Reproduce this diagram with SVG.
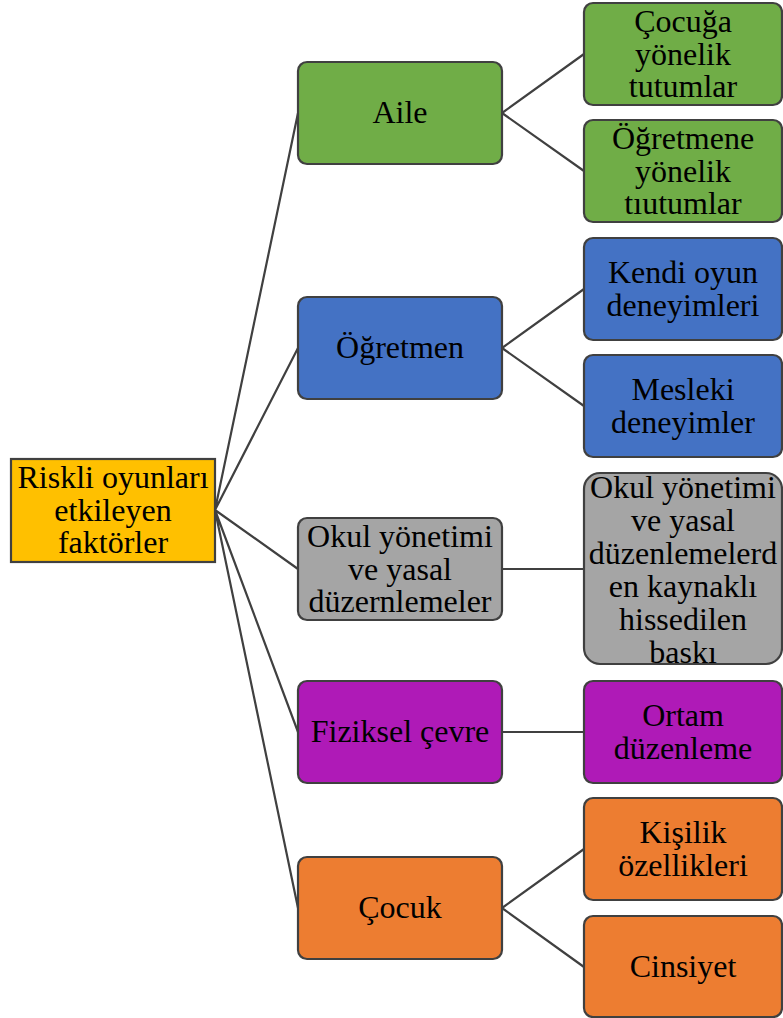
<svg xmlns="http://www.w3.org/2000/svg" width="783" height="1018" viewBox="0 0 783 1018">
<style>
.b{stroke:#404040;stroke-width:2.2}
.t{font-size:32px;fill:#000;text-anchor:middle}
.e{stroke:#404040;stroke-width:2.2;fill:none}
.g{fill:#70AD47}.bl{fill:#4472C4}.gr{fill:#A5A5A5}.p{fill:#AF1AB7}.o{fill:#ED7D31}.y{fill:#FFC000}
</style>
<g id="connectors">
<path class="e" d="M215 510L298 113M215 510L298 348M215 510L298 569M215 510L298 732M215 510L298 908"/>
<path class="e" d="M502 113L584 54M502 113L584 171M502 348L584 289M502 348L584 406M502 569L584 569M502 732L584 732M502 908L584 849M502 908L584 967"/>
</g>
<g font-family="Liberation Serif, Times New Roman, DejaVu Serif, serif">
<g id="root"><rect class="b y" x="11" y="459" width="204" height="103"/>
<text class="t"><tspan x="113" y="488">Riskli oyunları</tspan><tspan x="113" y="520.5">etkileyen</tspan><tspan x="113" y="553">faktörler</tspan></text></g>
<g id="aile"><rect class="b g" x="298" y="62" width="204" height="102" rx="9"/><text class="t" x="400" y="123">Aile</text></g>
<g id="ogretmen"><rect class="b bl" x="298" y="297" width="204" height="102" rx="9"/><text class="t" x="400" y="358">Öğretmen</text></g>
<g id="okul"><rect class="b gr" x="298" y="518" width="204" height="102" rx="9"/>
<text class="t"><tspan x="400" y="547">Okul yönetimi</tspan><tspan x="400" y="579.5">ve yasal</tspan><tspan x="400" y="612">düzernlemeler</tspan></text></g>
<g id="fiziksel"><rect class="b p" x="298" y="681" width="204" height="102" rx="9"/><text class="t" x="400" y="742">Fiziksel çevre</text></g>
<g id="cocuk"><rect class="b o" x="298" y="857" width="204" height="102" rx="9"/><text class="t" x="400" y="918">Çocuk</text></g>
<g id="cocuga"><rect class="b g" x="584" y="3" width="198" height="102" rx="9"/>
<text class="t"><tspan x="683" y="32">Çocuğa</tspan><tspan x="683" y="64.5">yönelik</tspan><tspan x="683" y="97">tutumlar</tspan></text></g>
<g id="ogretmene"><rect class="b g" x="584" y="120" width="198" height="102" rx="9"/>
<text class="t"><tspan x="683" y="149">Öğretmene</tspan><tspan x="683" y="181.5">yönelik</tspan><tspan x="683" y="214">tıutumlar</tspan></text></g>
<g id="kendi"><rect class="b bl" x="584" y="238" width="198" height="102" rx="9"/>
<text class="t"><tspan x="683" y="283">Kendi oyun</tspan><tspan x="683" y="315.5">deneyimleri</tspan></text></g>
<g id="mesleki"><rect class="b bl" x="584" y="355" width="198" height="102" rx="9"/>
<text class="t"><tspan x="683" y="400">Mesleki</tspan><tspan x="683" y="432.5">deneyimler</tspan></text></g>
<g id="baski"><rect class="b gr" x="584" y="473" width="198" height="191" rx="16"/>
<text class="t"><tspan x="683" y="498">Okul yönetimi</tspan><tspan x="683" y="531">ve yasal</tspan><tspan x="683" y="564">düzenlemelerd</tspan><tspan x="683" y="597">en kaynaklı</tspan><tspan x="683" y="630">hissedilen</tspan><tspan x="683" y="663">baskı</tspan></text></g>
<g id="ortam"><rect class="b p" x="584" y="681" width="198" height="102" rx="9"/>
<text class="t"><tspan x="683" y="726">Ortam</tspan><tspan x="683" y="758.5">düzenleme</tspan></text></g>
<g id="kisilik"><rect class="b o" x="584" y="798" width="198" height="102" rx="9"/>
<text class="t"><tspan x="683" y="843">Kişilik</tspan><tspan x="683" y="875.5">özellikleri</tspan></text></g>
<g id="cinsiyet"><rect class="b o" x="584" y="916" width="198" height="101" rx="9"/><text class="t" x="683" y="977">Cinsiyet</text></g>
</g>
</svg>
